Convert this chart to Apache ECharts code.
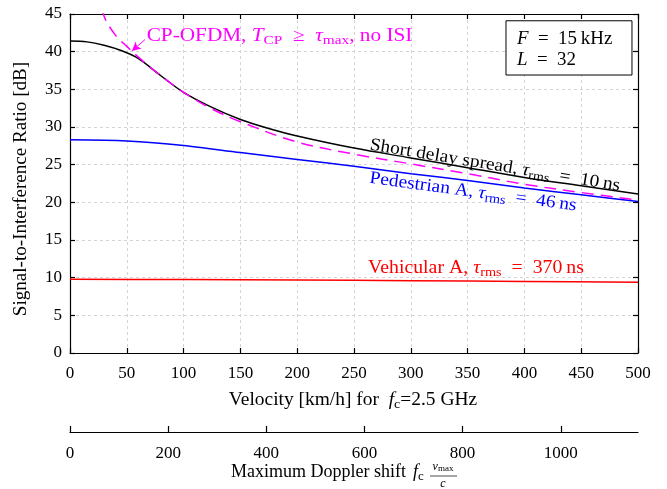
<!DOCTYPE html>
<html><head><meta charset="utf-8">
<script src="https://cdn.jsdelivr.net/npm/echarts@6/dist/echarts.min.js"></script>
<style>html,body{margin:0;padding:0;background:#fff}#c{width:667px;height:489px}</style>
</head><body><div id="c"></div>
<script>
// ---- data ----
const shortDelayV = [0, 15, 30, 45, 60, 80, 100, 125, 150, 175, 200, 250, 300, 350, 400, 450, 500];
const shortDelay  = [41.4, 41.3, 40.85, 40.15, 39.1, 36.8, 34.6, 32.6, 31.0, 29.8, 28.8, 27.2, 25.9, 24.6, 23.3, 22.2, 21.1];
const pedestrianV = [0, 50, 100, 150, 200, 250, 300, 350, 400, 450, 500];
const pedestrianA = [28.3, 28.15, 27.55, 26.6, 25.7, 24.8, 23.8, 22.9, 21.9, 21.0, 20.1];
const cpOfdmV = [20, 30, 40, 50, 60, 75, 100, 125, 150, 200, 250, 300, 350, 400, 450, 500];
const cpOfdm  = [50.5, 44.7, 42.2, 40.7, 39.3, 37.4, 34.6, 32.4, 30.7, 28.0, 26.4, 25.1, 23.8, 22.4, 21.3, 20.3];
const vehicularV = [0, 100, 200, 300, 400, 500];
const vehicularA = [9.8, 9.75, 9.7, 9.6, 9.5, 9.4];
const velocityTicks = [0, 50, 100, 150, 200, 250, 300, 350, 400, 450, 500];
const sirTicks = [0, 5, 10, 15, 20, 25, 30, 35, 40, 45];
const dopplerTicks = [0, 200, 400, 600, 800, 1000];
const dopplerMax = 1157.4; // fc*vmax/c at 500 km/h, 2.5 GHz

// ---- layout ----
const G = {left: 70, top: 14, width: 568, height: 339};
const G2top = 431;
const SERIF = '"Liberation Serif","DejaVu Serif",serif';

const pairs = (xs, ys) => xs.map((x, i) => [x, ys[i]]);

const chart = echarts.init(document.getElementById('c'), null, {renderer: 'canvas'});

const richBase = (size, color) => ({
  n: {fontFamily: SERIF, fontSize: size, color: color, fill: color, lineHeight: 22},
  i: {fontFamily: SERIF, fontSize: size, fontStyle: 'italic', color: color, fill: color, lineHeight: 22},
  s: {fontFamily: SERIF, fontSize: Math.round(size * 0.7), color: color, fill: color, verticalAlign: 'bottom', lineHeight: 14}
});

const gridLine = {show: true, lineStyle: {color: '#d4d4d4', type: [3, 3], width: 1}};
const axisLine = {show: true, onZero: false, lineStyle: {color: '#000', width: 1.2}};
const tickIn = {show: true, inside: true, length: 5, lineStyle: {color: '#000', width: 1.2}};
const lbl = {fontFamily: SERIF, fontSize: 17, color: '#000', formatter: v => String(v)};

chart.setOption({
  animation: false,
  backgroundColor: '#fff',
  grid: [
    {left: G.left, top: G.top, width: G.width, height: G.height, containLabel: false},
    {left: G.left, top: G2top, width: G.width, height: 1, containLabel: false}
  ],
  xAxis: [
    {type: 'value', gridIndex: 0, min: 0, max: 500, interval: 50, position: 'bottom',
     axisLine, axisTick: tickIn, splitLine: gridLine,
     axisLabel: Object.assign({margin: 12, customValues: velocityTicks}, lbl)},
    {type: 'value', gridIndex: 0, min: 0, max: 500, interval: 50, position: 'top',
     axisLine, axisTick: tickIn, splitLine: {show: false}, axisLabel: {show: false}},
    {type: 'value', gridIndex: 1, min: 0, max: dopplerMax, interval: 200, position: 'bottom',
     axisLine, axisTick: Object.assign({}, tickIn, {length: 6, customValues: dopplerTicks}),
     splitLine: {show: false},
     axisLabel: Object.assign({margin: 13, customValues: dopplerTicks}, lbl)}
  ],
  yAxis: [
    {type: 'value', gridIndex: 0, min: 0, max: 45, interval: 5, position: 'left',
     axisLine, axisTick: tickIn, splitLine: gridLine,
     axisLabel: Object.assign({margin: 8, customValues: sirTicks}, lbl)},
    {type: 'value', gridIndex: 0, min: 0, max: 45, interval: 5, position: 'right',
     axisLine, axisTick: tickIn, splitLine: {show: false}, axisLabel: {show: false}},
    {type: 'value', gridIndex: 1, min: 0, max: 1, show: false}
  ],
  series: [
    {name: 'Pedestrian A', type: 'line', xAxisIndex: 0, yAxisIndex: 0, data: pairs(pedestrianV, pedestrianA),
     showSymbol: false, smooth: 0.3, lineStyle: {color: '#0000ff', width: 1.5}, z: 2},
    {name: 'Vehicular A', type: 'line', xAxisIndex: 0, yAxisIndex: 0, data: pairs(vehicularV, vehicularA),
     showSymbol: false, smooth: 0.3, lineStyle: {color: '#ff0000', width: 1.5}, z: 2},
    {name: 'Short delay spread', type: 'line', xAxisIndex: 0, yAxisIndex: 0, data: pairs(shortDelayV, shortDelay),
     showSymbol: false, smooth: 0.35, lineStyle: {color: '#000000', width: 1.5}, z: 3},
    {name: 'CP-OFDM', type: 'line', xAxisIndex: 0, yAxisIndex: 0, data: pairs(cpOfdmV, cpOfdm),
     showSymbol: false, smooth: 0.35, clip: true, lineStyle: {color: '#ff00ff', width: 1.5, type: [12, 7]}, z: 4,
     markLine: {silent: true, symbol: ['none', 'arrow'], symbolSize: [7, 9], animation: false,
       lineStyle: {color: '#ff00ff', width: 1, type: 'solid'}, label: {show: false},
       data: [[{coord: [66, 41.6]}, {coord: [54.5, 40.1]}]]}}
  ]
});

const P = (v, db) => chart.convertToPixel({xAxisIndex: 0, yAxisIndex: 0}, [v, db]);

const labelText = (pos, text, color, rot, align, sx) => ({
  type: 'text', x: pos[0], y: pos[1], rotation: rot || 0, scaleX: sx || 1, z: 10,
  style: {text: text, align: align || 'center', verticalAlign: 'middle', rich: richBase(18, color)}
});

const EQ = '\u2002=\u2002';
const boxTL = P(383.8, 44.1), boxBR = P(494.7, 36.9);
const dopY = 472;

chart.setOption({
  graphic: [
    labelText(P(67.5, 42.08), '{n|CP-OFDM, }{i|T}{s|CP}{n|\u2002≥\u2002}{i|τ}{s|max}{n|, no ISI}', '#ff00ff', 0, 'left', 1.18),
    labelText(P(374.1, 24.9), '{n|Short delay spread, }{i|τ}{s|rms}{n|' + EQ + '10\u2009ns}', '#000000', -0.163, 'center', 1.08),
    labelText(P(354.8, 21.37), '{n|Pedestrian A, }{i|τ}{s|rms}{n|' + EQ + '46\u2009ns}', '#0000ff', -0.133, 'center', 1.08),
    labelText(P(357.4, 11.28), '{n|Vehicular A, }{i|τ}{s|rms}{n|' + EQ + '370\u2009ns}', '#ff0000', 0, 'center', 1.1),
    {type: 'rect', z: 10, shape: {x: boxTL[0], y: boxTL[1], width: boxBR[0] - boxTL[0], height: boxBR[1] - boxTL[1]},
     style: {fill: '#fff', stroke: '#000', lineWidth: 1}},
    labelText(P(393.5, 41.68), '{i|F}{n|' + EQ + '15\u2009kHz}', '#000', 0, 'left', 1.05),
    labelText(P(393.5, 38.9), '{i|L}{n|' + EQ + '32}', '#000', 0, 'left', 1.05),
    // Y axis title
    labelText([21, 189], '{n|Signal-to-Interference Ratio [dB]}', '#000', Math.PI / 2, 'center', 1.06),
    // Velocity axis title
    labelText([G.left + G.width / 2 - 1, 400], '{n|Velocity [km/h] for  }{i|f}{s|c}{n|=2.5 GHz}', '#000', 0, 'center', 1.08),
    // Doppler axis title with fraction v_max / c
    {type: 'text', x: 406, y: dopY, z: 10,
     style: {text: '{n|Maximum Doppler shift}', align: 'right', verticalAlign: 'middle', rich: richBase(18, '#000')}},
    {type: 'text', x: 413, y: dopY, z: 10,
     style: {text: '{i|f}{s|c}', align: 'left', verticalAlign: 'middle', rich: richBase(18, '#000')}},
    {type: 'text', x: 443, y: dopY - 5, z: 10,
     style: {text: '{i|v}{s|max}', align: 'center', verticalAlign: 'middle',
       rich: {i: {fontFamily: SERIF, fontSize: 12, fontStyle: 'italic', fill: '#000', lineHeight: 12},
              s: {fontFamily: SERIF, fontSize: 9, fill: '#000', verticalAlign: 'bottom', lineHeight: 9}}}},
    {type: 'line', z: 10, shape: {x1: 430, y1: dopY + 4, x2: 457, y2: dopY + 4}, style: {stroke: '#000', lineWidth: 0.7}},
    {type: 'text', x: 443, y: dopY + 12, z: 10,
     style: {text: 'c', align: 'center', verticalAlign: 'middle', font: 'italic 12px ' + SERIF, fill: '#000'}}
  ]
});
</script>
</body></html>
